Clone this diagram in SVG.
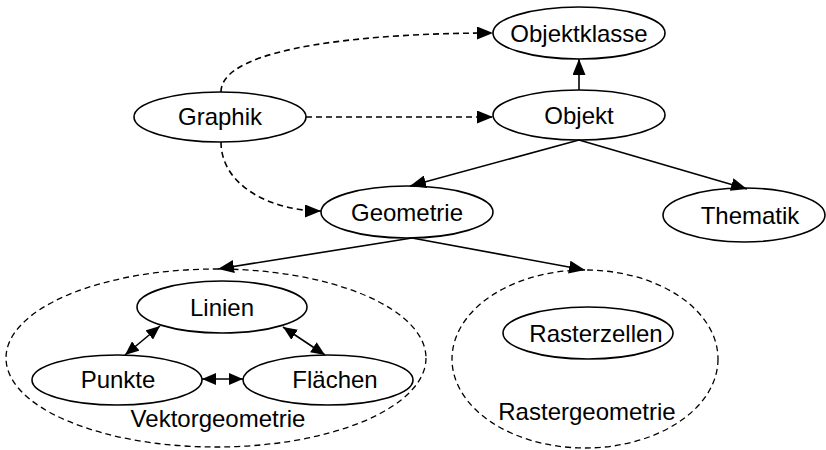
<svg xmlns="http://www.w3.org/2000/svg" width="826" height="450" viewBox="0 0 826 450">
<style>
.n ellipse{fill:#fff;stroke:#000;stroke-width:1.6}
.g ellipse{fill:none;stroke:#000;stroke-width:1.3;stroke-dasharray:6 4}
text{font-family:"Liberation Sans",Arial,sans-serif;font-size:24px;fill:#000;text-anchor:middle}
.c path{fill:none;stroke:#000;stroke-width:1.6}
.c .d{stroke-dasharray:6 4}
</style>
<defs>
<marker id="a" markerUnits="userSpaceOnUse" markerWidth="16" markerHeight="13" refX="16" refY="6.5" orient="auto-start-reverse"><path d="M0,0 L16,6.5 L0,13 z" fill="#000"/></marker>
<marker id="s" markerUnits="userSpaceOnUse" markerWidth="14" markerHeight="12" refX="14" refY="6" orient="auto-start-reverse"><path d="M0,0 L14,6 L0,12 z" fill="#000"/></marker>
</defs>
<g id="vektorgeometrie" class="g"><ellipse cx="216" cy="358" rx="210" ry="89"/><text x="218" y="427">Vektorgeometrie</text></g>
<g id="rastergeometrie" class="g"><ellipse cx="585" cy="359" rx="133" ry="89"/><text x="587" y="420">Rastergeometrie</text></g>
<g id="objektklasse" class="n"><ellipse cx="579" cy="33" rx="86" ry="26"/><text x="579" y="42">Objektklasse</text></g>
<g id="graphik" class="n"><ellipse cx="220" cy="117" rx="86" ry="25"/><text x="220" y="125">Graphik</text></g>
<g id="objekt" class="n"><ellipse cx="579" cy="115" rx="86" ry="25"/><text x="579" y="124">Objekt</text></g>
<g id="geometrie" class="n"><ellipse cx="407" cy="212" rx="86" ry="26"/><text x="407" y="221">Geometrie</text></g>
<g id="thematik" class="n"><ellipse cx="744" cy="215" rx="81" ry="27"/><text x="750" y="224">Thematik</text></g>
<g id="linien" class="n"><ellipse cx="222" cy="307" rx="85" ry="26"/><text x="222" y="316">Linien</text></g>
<g id="punkte" class="n"><ellipse cx="117" cy="380" rx="85" ry="25"/><text x="118" y="388">Punkte</text></g>
<g id="flaechen" class="n"><ellipse cx="328" cy="380" rx="85" ry="25"/><text x="335" y="388">Flächen</text></g>
<g id="rasterzellen" class="n"><ellipse cx="588" cy="333" rx="85" ry="26"/><text x="596" y="342">Rasterzellen</text></g>
<g id="connectors" class="c">
<path class="d" d="M221,92 C221,45 380,33 493,33" marker-end="url(#a)"/>
<path class="d" d="M306,117 L493,117" marker-end="url(#a)"/>
<path d="M579,90 L579,59" marker-end="url(#a)"/>
<path class="d" d="M221,142 C221,185 270,211 321,211" marker-end="url(#a)"/>
<path d="M579,140 L410,186" marker-end="url(#a)"/>
<path d="M579,140 L747,189" marker-end="url(#a)"/>
<path d="M412,238 L218,269" marker-end="url(#a)"/>
<path d="M412,238 L585,270" marker-end="url(#a)"/>
<path d="M125,355 L160,326" marker-start="url(#s)" marker-end="url(#s)"/>
<path d="M283,327 L325,355" marker-start="url(#s)" marker-end="url(#s)"/>
<path d="M202,379 L243,379" marker-start="url(#s)" marker-end="url(#s)"/>
</g>
</svg>
